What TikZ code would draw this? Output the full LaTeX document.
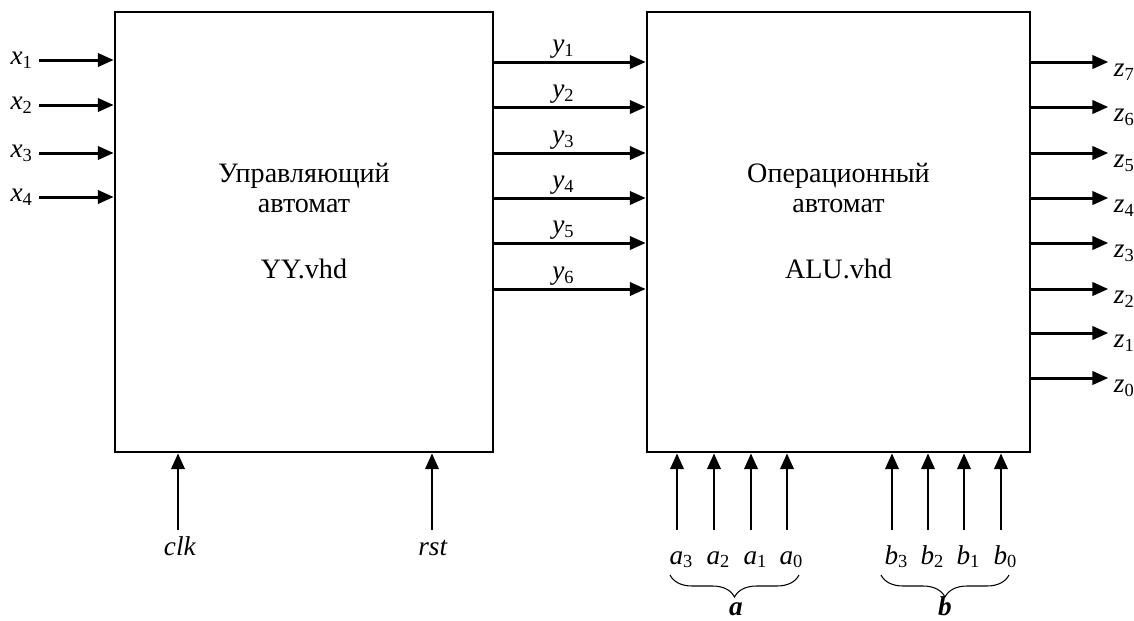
\documentclass[tikz,border=0pt]{standalone}
\usepackage{fontspec}
\setmainfont{Liberation Serif}
\usetikzlibrary{arrows.meta,positioning,decorations.pathreplacing}
\newcommand{\sigl}[2]{\textit{#1}\raisebox{-0.14em}{\fontsize{10.5}{10.5}\selectfont #2}}

\begin{document}
\begin{tikzpicture}[
  x=0.02cm,y=-0.02cm,
  font=\fontsize{16}{17.6}\selectfont,
  block/.style={draw,line width=1.5pt,minimum width=7.56cm,minimum height=8.8cm,inner sep=0pt},
  arr/.style={-{Triangle[length=9pt,width=7.5pt]},line width=1.7pt},
  sig/.style={inner sep=1pt,font=\fontsize{15.5}{17}\selectfont},
  brc/.style={decorate,decoration={brace,mirror,amplitude=0.44cm},line width=0.6pt}
]
\useasboundingbox (0,0) rectangle (1134,620);

% blocks
\node[block] (ctrl) at (304,232) {};
\node[block,minimum width=7.66cm] (alu) at (838.5,232) {};
\node[align=center] (ctrltxt) at (304,188) {Управляющий\\автомат};
\node[anchor=base] (ctrlfile) at (304,278) {YY.vhd};
\node[align=center] (alutxt) at (838.5,188) {Операционный\\автомат};
\node[anchor=base] (alufile) at (838.5,278) {ALU.vhd};

% inputs x
\foreach \i/\yy in {1/60,2/105,3/153,4/197}{
  \node[sig,anchor=east] (x\i) at (34,\yy) {\sigl{x}{\i}};
  \draw[arr,shorten <=3pt] (x\i.east) -- (x\i.east -| ctrl.west);
}

% control signals y
\foreach \i/\yy in {1/62,2/107,3/153,4/198,5/243,6/289}{
  \draw[arr] (ctrl.east |- 0,\yy) -- (alu.west |- 0,\yy)
    node[midway,above,sig,xshift=-4pt] (y\i) {\sigl{y}{\i}};
}

% outputs z
\foreach \i/\yy in {7/62,6/107,5/153,4/198,3/243,2/289,1/333,0/378}{
  \draw[arr] (alu.east |- 0,\yy) -- ++(77,0) coordinate (zend\i);
  \node[sig,anchor=west] (z\i) at ([xshift=2pt,yshift=-6pt]zend\i) {\sigl{z}{\i}};
}

% bottom inputs
\coordinate (tail) at (0,530);
\node[sig,anchor=base] (clk) at (180,555) {\textit{clk}};
\node[sig,anchor=base] (rst) at (433,555) {\textit{rst}};
\draw[arr] (178,0 |- tail) -- (178,0 |- ctrl.south);
\draw[arr] (432,0 |- tail) -- (432,0 |- ctrl.south);

\foreach \n/\xx in {3/677,2/714,1/751,0/787}{
  \node[sig,anchor=base] (a\n) at (\xx+4,564) {\sigl{a}{\n}};
  \draw[arr] (\xx,0 |- tail) -- (\xx,0 |- alu.south);
}
\foreach \n/\xx in {3/892,2/928,1/964,0/1001}{
  \node[sig,anchor=base] (b\n) at (\xx+4,564) {\sigl{b}{\n}};
  \draw[arr] (\xx,0 |- tail) -- (\xx,0 |- alu.south);
}

% buses
\draw[brc] (670,575) -- (799,575);
\draw[brc] (881,575) -- (1009,575);
\node[sig,anchor=base] (abus) at (736,615) {\textbf{\textit{a}}};
\node[sig,anchor=base] (bbus) at (945,615) {\textbf{\textit{b}}};

\end{tikzpicture}
\end{document}
